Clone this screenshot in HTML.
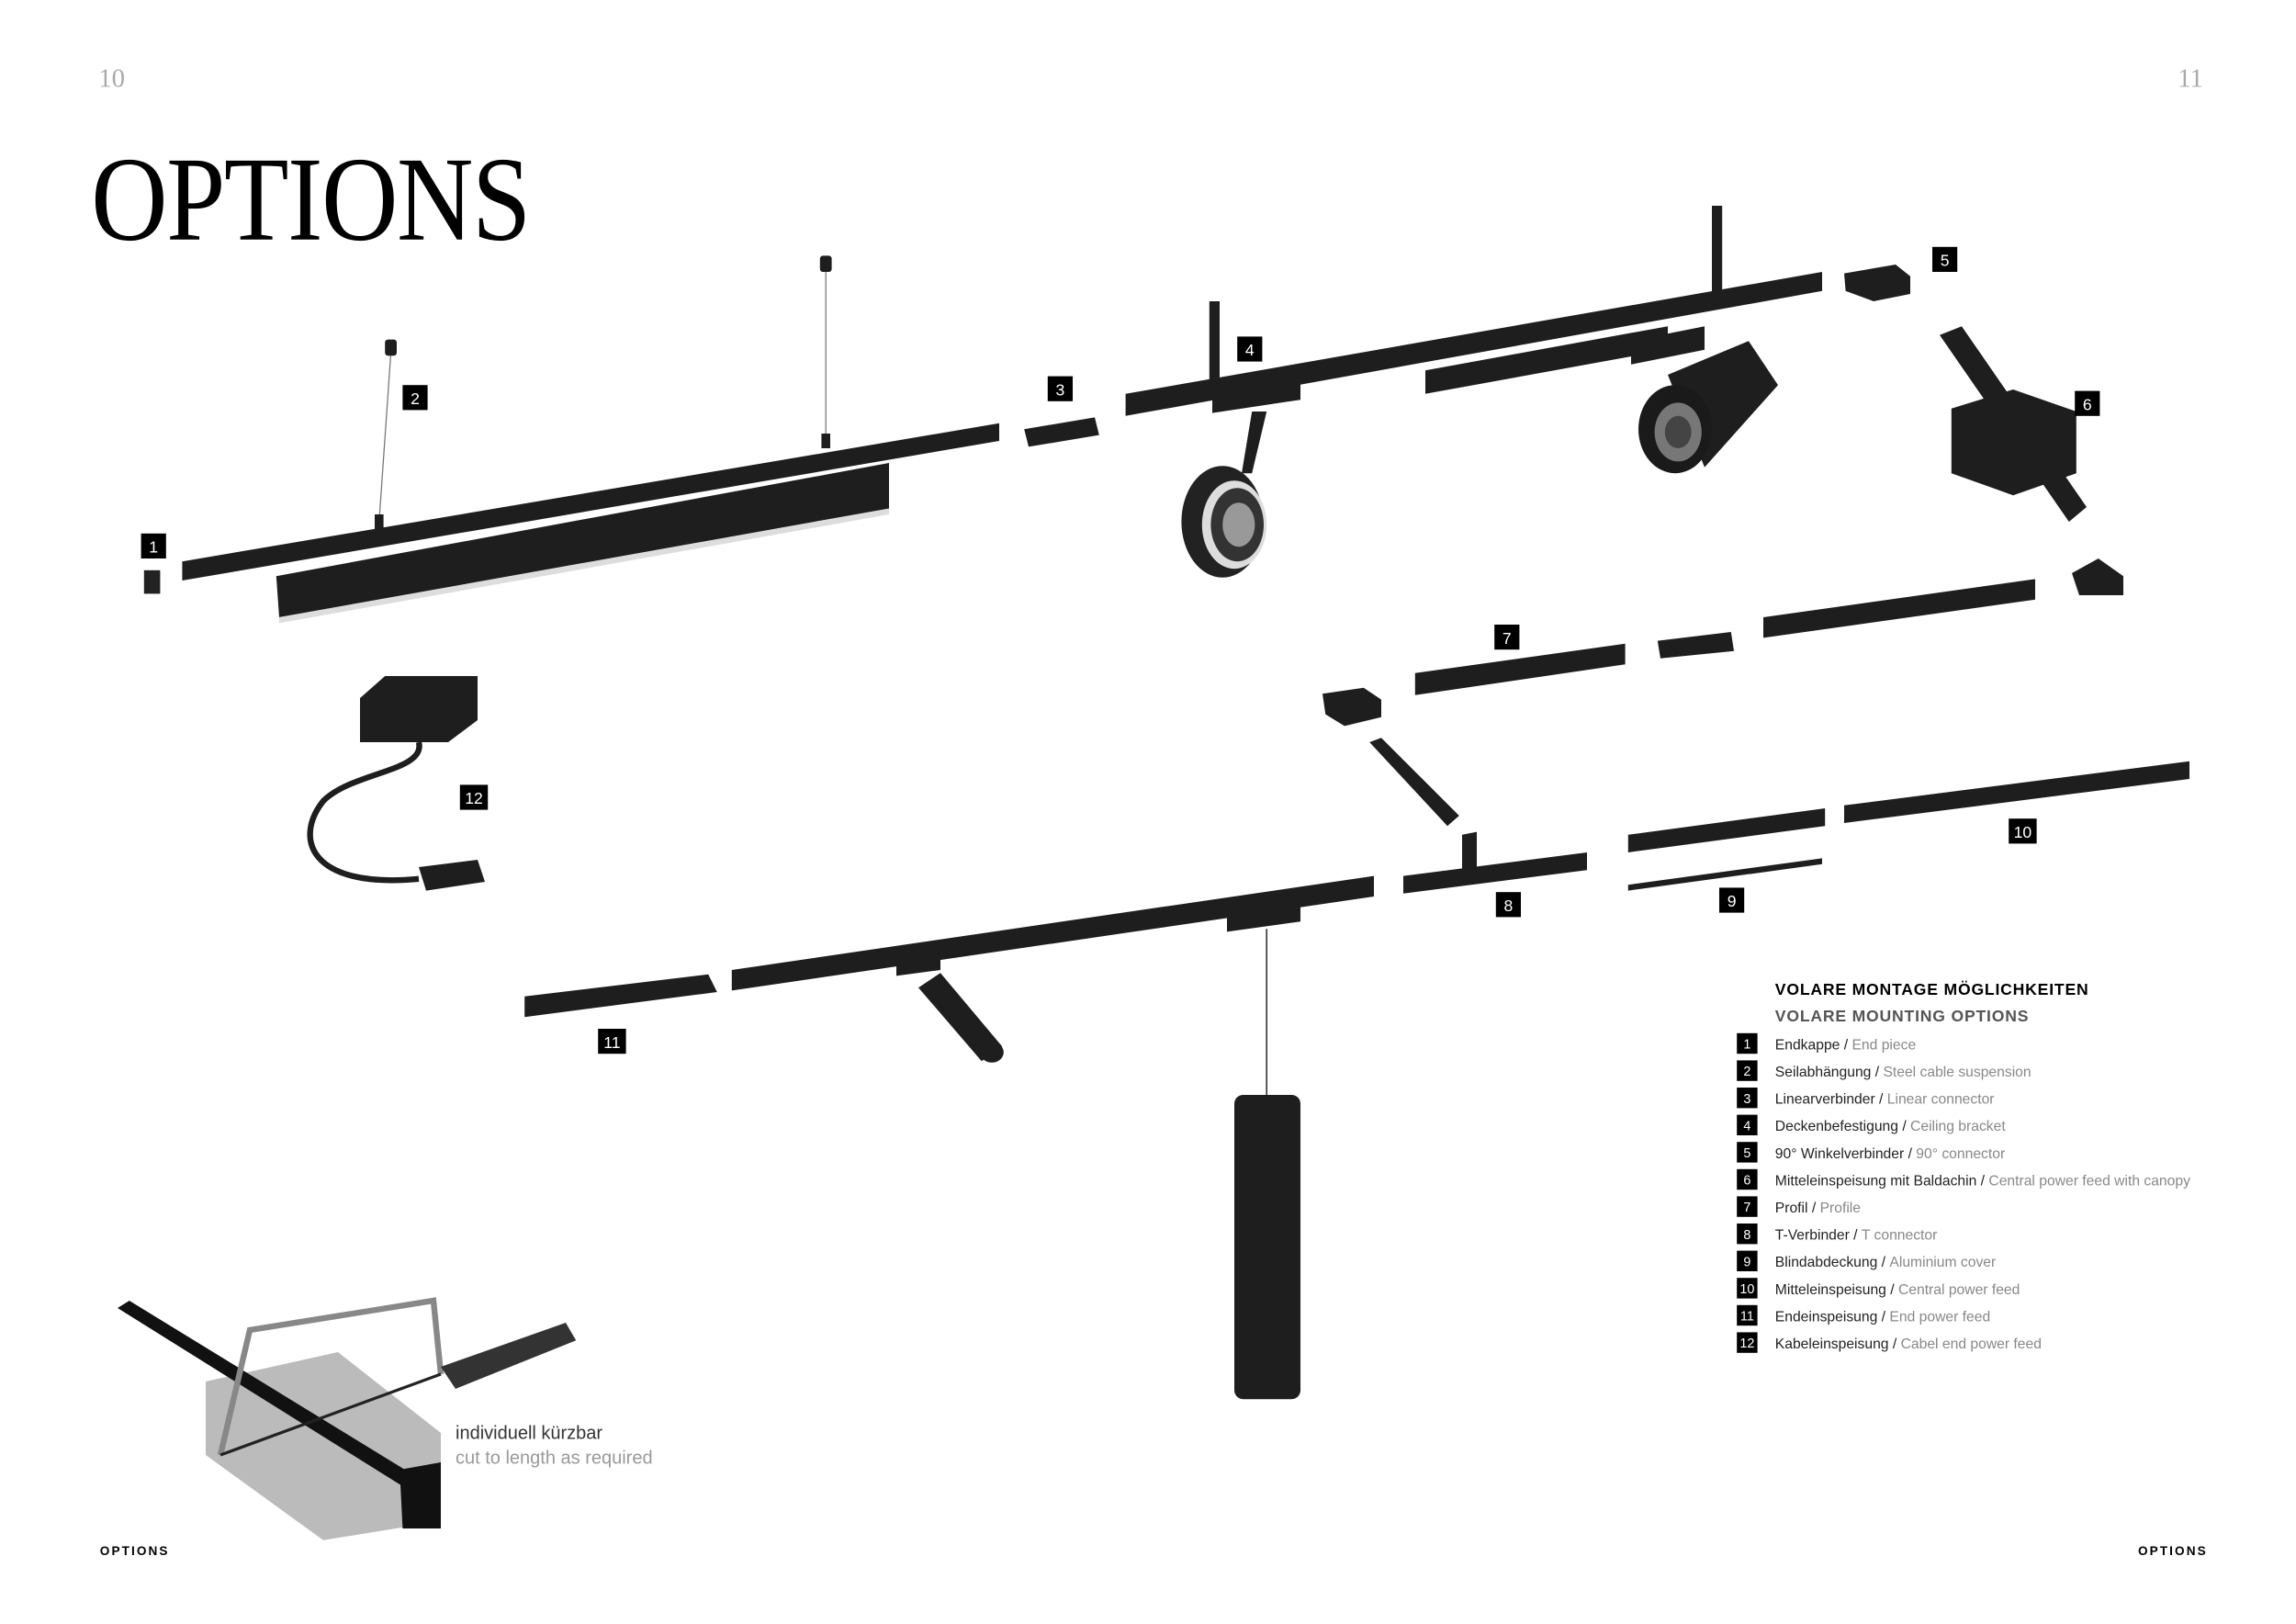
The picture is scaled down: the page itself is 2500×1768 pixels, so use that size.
<!DOCTYPE html>
<html><head><meta charset="utf-8"><style>
html,body{margin:0;padding:0;background:#fff;}
svg{display:block;}
</style></head><body>
<svg width="2500" height="1768" viewBox="0 0 1562.5 1105" xmlns="http://www.w3.org/2000/svg" font-family="Liberation Sans, sans-serif">
<rect width="1562.5" height="1105" fill="#fff"/>
<!-- page numbers -->
<text x="67" y="59" font-family="Liberation Serif, serif" font-size="18" fill="#aaa">10</text>
<text x="1482" y="59" font-family="Liberation Serif, serif" font-size="18" fill="#aaa">11</text>
<!-- title -->
<text x="62" y="163" font-family="Liberation Serif, serif" font-size="82" fill="#000" transform="translate(62 0) scale(0.88 1) translate(-62 0)" letter-spacing="-1">OPTIONS</text>
<!-- footers -->
<text x="68" y="1058" font-size="8.5" font-weight="bold" letter-spacing="1.3" fill="#000">OPTIONS</text>
<text x="1455" y="1058" font-size="8.5" font-weight="bold" letter-spacing="1.3" fill="#000">OPTIONS</text>

<g fill="#1e1e1e">
<rect x="98" y="388" width="11" height="16" fill="#222"/>
<line x1="266" y1="240" x2="258" y2="355" stroke="#777" stroke-width="0.8"/>
<rect x="262" y="231" width="8" height="11" rx="2"/>
<rect x="255" y="350" width="6" height="10"/>
<line x1="562" y1="182" x2="562" y2="300" stroke="#777" stroke-width="0.8"/>
<rect x="558" y="174" width="8" height="11" rx="2"/>
<rect x="559" y="295" width="6" height="10"/>
<polygon points="124,382 680,288 680,300 124,395"/>
<polygon points="188,392 605,315 605,346 190,420"/>
<polygon points="190,420 605,346 605,350 190,424" fill="#ddd"/>
<polygon points="697,292 745,284 748,296 700,304"/>
<polygon points="766,268 1240,185 1240,198 766,283"/>
<rect x="823" y="205" width="7" height="65"/>
<rect x="1165" y="140" width="7" height="60"/>
<polygon points="970,252 1135,222 1135,238 970,268"/>
<polygon points="825,265 885,256 885,272 825,281"/>
<polygon points="1110,232 1160,222 1160,238 1110,248"/>
<polygon points="852,280 862,280 852,322 845,322"/>
<ellipse cx="832" cy="355" rx="28" ry="38" fill="#222"/>
<ellipse cx="840" cy="357" rx="22" ry="30" fill="#ddd"/>
<ellipse cx="842" cy="357" rx="18" ry="25" fill="#333"/>
<ellipse cx="843" cy="357" rx="11" ry="15" fill="#999"/>
<polygon points="1135,255 1190,232 1210,262 1160,318"/>
<ellipse cx="1140" cy="292" rx="25" ry="30" fill="#1a1a1a"/>
<ellipse cx="1142" cy="294" rx="16" ry="20" fill="#777"/>
<ellipse cx="1142" cy="294" rx="9" ry="11" fill="#444"/>
<polygon points="1255,186 1290,180 1300,188 1300,200 1275,205 1256,198"/>
<polygon points="1320,228 1335,222 1420,345 1408,355"/>
<polygon points="1328,278 1370,265 1413,280 1413,322 1370,337 1328,322"/>
<polygon points="1410,390 1428,380 1445,392 1445,405 1415,405"/>
<polygon points="963,458 1106,438 1106,452 963,473"/>
<polygon points="1128,436 1178,430 1180,443 1130,448"/>
<polygon points="1200,420 1385,394 1385,408 1200,434"/>
<polygon points="900,472 928,468 940,476 940,488 915,494 902,486"/>
<polygon points="932,505 940,502 993,555 985,562"/>
<polygon points="955,596 1080,580 1080,592 955,608"/>
<polygon points="995,568 1005,566 1005,590 995,592"/>
<polygon points="1108,568 1242,550 1242,562 1108,580"/>
<polygon points="1108,602 1240,584 1240,588 1108,606"/>
<polygon points="1255,548 1490,518 1490,530 1255,560"/>
<polygon points="357,678 482,663 488,675 357,692"/>
<polygon points="498,660 935,596 935,610 498,674"/>
<polygon points="610,650 640,646 640,660 610,664"/>
<polygon points="835,620 885,613 885,627 835,634"/>
<polygon points="625,672 640,662 682,712 668,722"/>
<ellipse cx="675" cy="716" rx="8" ry="7"/>
<line x1="862" y1="632" x2="862" y2="750" stroke="#333" stroke-width="1"/>
<rect x="840" y="745" width="45" height="207" rx="6"/>
<polygon points="245,475 262,460 325,460 325,490 305,505 245,505"/>
<path d="M285,505 C290,525 240,525 220,545 C200,570 210,605 285,598" stroke="#1e1e1e" stroke-width="4" fill="none"/>
<polygon points="285,590 325,585 330,600 290,606"/>
</g>

<!-- saw illustration -->
<polygon points="140,940 230,920 300,975 300,1035 220,1048 140,990" fill="#bbb"/>
<polygon points="80,890 88,885 300,1015 296,1025" fill="#111"/>
<polygon points="272,1000 300,995 300,1040 274,1040" fill="#111"/>
<path d="M150,990 L170,905 L295,885 L300,935" stroke="#888" stroke-width="4" fill="none"/>
<line x1="150" y1="990" x2="300" y2="935" stroke="#222" stroke-width="2"/>
<polygon points="300,930 385,900 392,912 310,945" fill="#333"/>
<text x="310" y="979" font-size="12.5" fill="#333">individuell kürzbar</text>
<text x="310" y="996" font-size="12.5" fill="#999">cut to length as required</text>

<g font-size="11" fill="#fff" text-anchor="middle">
<rect x="96" y="363" width="17" height="17" fill="#000"/><text x="104.5" y="376">1</text>
<rect x="274" y="262" width="17" height="17" fill="#000"/><text x="282.5" y="275">2</text>
<rect x="713" y="256" width="17" height="17" fill="#000"/><text x="721.5" y="269">3</text>
<rect x="842" y="229" width="17" height="17" fill="#000"/><text x="850.5" y="242">4</text>
<rect x="1315" y="168" width="17" height="17" fill="#000"/><text x="1323.5" y="181">5</text>
<rect x="1412" y="266" width="17" height="17" fill="#000"/><text x="1420.5" y="279">6</text>
<rect x="1017" y="425" width="17" height="17" fill="#000"/><text x="1025.5" y="438">7</text>
<rect x="1018" y="607" width="17" height="17" fill="#000"/><text x="1026.5" y="620">8</text>
<rect x="1170" y="604" width="17" height="17" fill="#000"/><text x="1178.5" y="617">9</text>
<rect x="1367" y="557" width="19" height="17" fill="#000"/><text x="1376.5" y="570">10</text>
<rect x="407" y="700" width="19" height="17" fill="#000"/><text x="416.5" y="713">11</text>
<rect x="313" y="534" width="19" height="17" fill="#000"/><text x="322.5" y="547">12</text>
</g>

<text x="1208" y="677" font-size="11" font-weight="bold" letter-spacing="0.5" fill="#000">VOLARE MONTAGE MÖGLICHKEITEN</text>
<text x="1208" y="695" font-size="11" font-weight="bold" letter-spacing="0.5" fill="#555">VOLARE MOUNTING OPTIONS</text>
<g font-size="9.8">
<g fill="#000">
<rect x="1182" y="703" width="14" height="14"/><rect x="1182" y="721.5" width="14" height="14"/><rect x="1182" y="740" width="14" height="14"/><rect x="1182" y="758.5" width="14" height="14"/><rect x="1182" y="777" width="14" height="14"/><rect x="1182" y="795.5" width="14" height="14"/><rect x="1182" y="814" width="14" height="14"/><rect x="1182" y="832.5" width="14" height="14"/><rect x="1182" y="851" width="14" height="14"/><rect x="1182" y="869.5" width="14" height="14"/><rect x="1182" y="888" width="14" height="14"/><rect x="1182" y="906.5" width="14" height="14"/>
</g>
<g fill="#fff" text-anchor="middle" font-size="9">
<text x="1189" y="713.5">1</text><text x="1189" y="732">2</text><text x="1189" y="750.5">3</text><text x="1189" y="769">4</text><text x="1189" y="787.5">5</text><text x="1189" y="806">6</text><text x="1189" y="824.5">7</text><text x="1189" y="843">8</text><text x="1189" y="861.5">9</text><text x="1189" y="880">10</text><text x="1189" y="898.5">11</text><text x="1189" y="917">12</text>
</g>
<g fill="#222">
<text x="1208" y="714">Endkappe / <tspan fill="#888">End piece</tspan></text>
<text x="1208" y="732.5">Seilabhängung / <tspan fill="#888">Steel cable suspension</tspan></text>
<text x="1208" y="751">Linearverbinder / <tspan fill="#888">Linear connector</tspan></text>
<text x="1208" y="769.5">Deckenbefestigung / <tspan fill="#888">Ceiling bracket</tspan></text>
<text x="1208" y="788">90° Winkelverbinder / <tspan fill="#888">90° connector</tspan></text>
<text x="1208" y="806.5">Mitteleinspeisung mit Baldachin / <tspan fill="#888">Central power feed with canopy</tspan></text>
<text x="1208" y="825">Profil / <tspan fill="#888">Profile</tspan></text>
<text x="1208" y="843.5">T-Verbinder / <tspan fill="#888">T connector</tspan></text>
<text x="1208" y="862">Blindabdeckung / <tspan fill="#888">Aluminium cover</tspan></text>
<text x="1208" y="880.5">Mitteleinspeisung / <tspan fill="#888">Central power feed</tspan></text>
<text x="1208" y="899">Endeinspeisung / <tspan fill="#888">End power feed</tspan></text>
<text x="1208" y="917.5">Kabeleinspeisung / <tspan fill="#888">Cabel end power feed</tspan></text>
</g>
</g>
</svg>
</body></html>
